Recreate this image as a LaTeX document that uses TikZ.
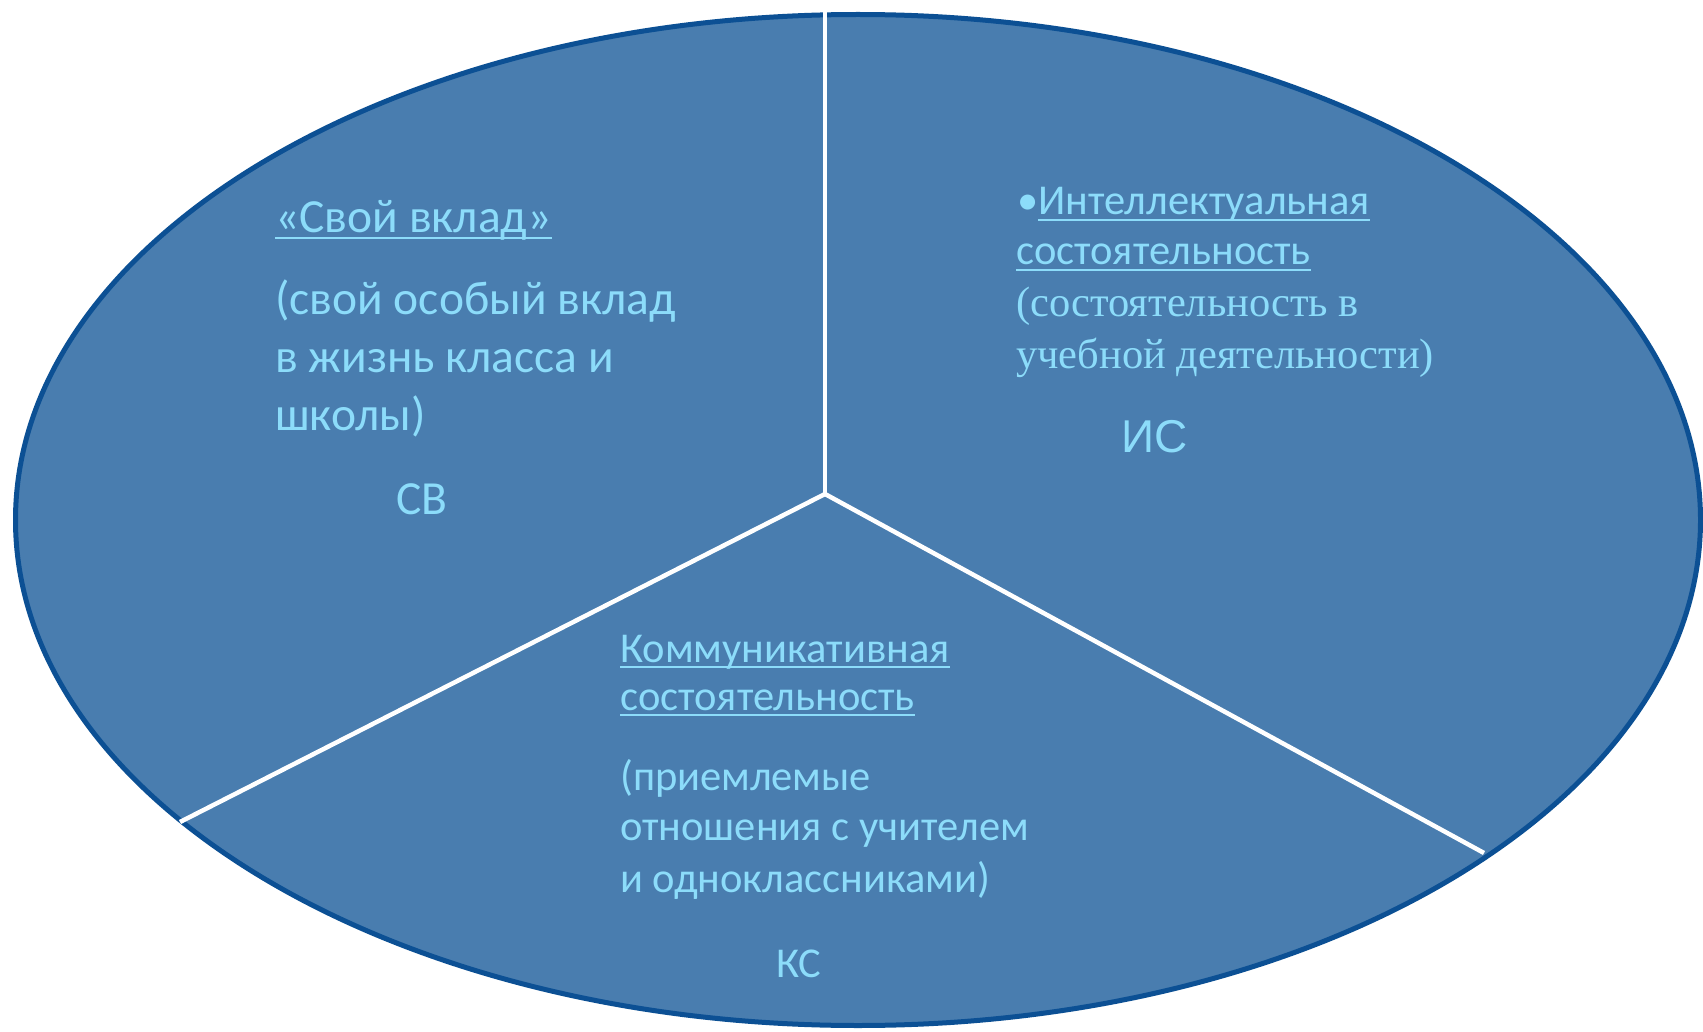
\documentclass[tikz,border=0pt]{standalone}
\usepackage{fontspec}
\setmainfont{Carlito}
\newfontfamily\serifru{Liberation Serif}
\newfontfamily\arialru{Liberation Sans}
\definecolor{ellfill}{RGB}{73,125,175}
\definecolor{ellline}{RGB}{12,80,148}
\definecolor{txtc}{RGB}{140,220,250}
\newcommand\ulx[1]{\setbox0\hbox{#1}\rlap{\rule[-6pt]{\wd0}{2pt}}\box0}
\tikzset{
  lbl/.style={anchor=base west, inner sep=0pt, text=txtc, font=\fontsize{42.5}{50}\selectfont},
  lblbig/.style={lbl, font=\fontsize{47.5}{55}\selectfont},
  lblser/.style={lbl, font=\serifru\fontsize{42.5}{50}\selectfont},
  lblabbr/.style={lbl, font=\arialru\fontsize{46}{50}\selectfont},
  divider/.style={draw=white, line width=4.5pt},
}
\begin{document}
\begin{tikzpicture}[x=1pt,y=-1pt]
\useasboundingbox (0,0) rectangle (1703,1032);
\fill[white] (0,0) rectangle (1703,1032);
\draw[fill=ellfill, draw=ellline, line width=5pt] (858,520) ellipse [x radius=842.5, y radius=505.5];
\coordinate (c) at (825,494);
\coordinate (top) at (825,12);
\coordinate (ll) at (180,822);
\coordinate (lr) at (1484,853);
\draw[divider] (c) -- (top);
\draw[divider] (c) -- (ll);
\draw[divider] (c) -- (lr);
% left
\node[lblbig] (sv1) at (275,233) {\ulx{«Свой вклад»}};
\node[lblbig] (sv2) at (275,315) {(свой особый вклад};
\node[lblbig] (sv3) at (275,372) {в жизнь класса и};
\node[lblbig] (sv4) at (275,430) {школы)};
\node[lblbig] (sv5) at (396,514) {СВ};
% right
\node[lbl] (is1) at (1017,215) {•\ulx{Интеллектуальная}};
\node[lbl] (is2) at (1016,265) {\ulx{состоятельность}};
\node[lblser] (is3) at (1016,317) {(состоятельность в};
\node[lblser] (is4) at (1016,368) {учебной деятельности)};
\node[lblabbr] (is5) at (1121,452) {ИС};
% bottom
\node[lbl] (ks1) at (620,662) {\ulx{Коммуникативная}};
\node[lbl] (ks2) at (620,710) {\ulx{состоятельность}};
\node[lbl] (ks3) at (620,790) {(приемлемые};
\node[lbl] (ks4) at (620,840) {отношения с учителем};
\node[lbl] (ks5) at (620,892) {и одноклассниками)};
\node[lbl] (ks6) at (776,977) {КС};
\end{tikzpicture}
\end{document}
